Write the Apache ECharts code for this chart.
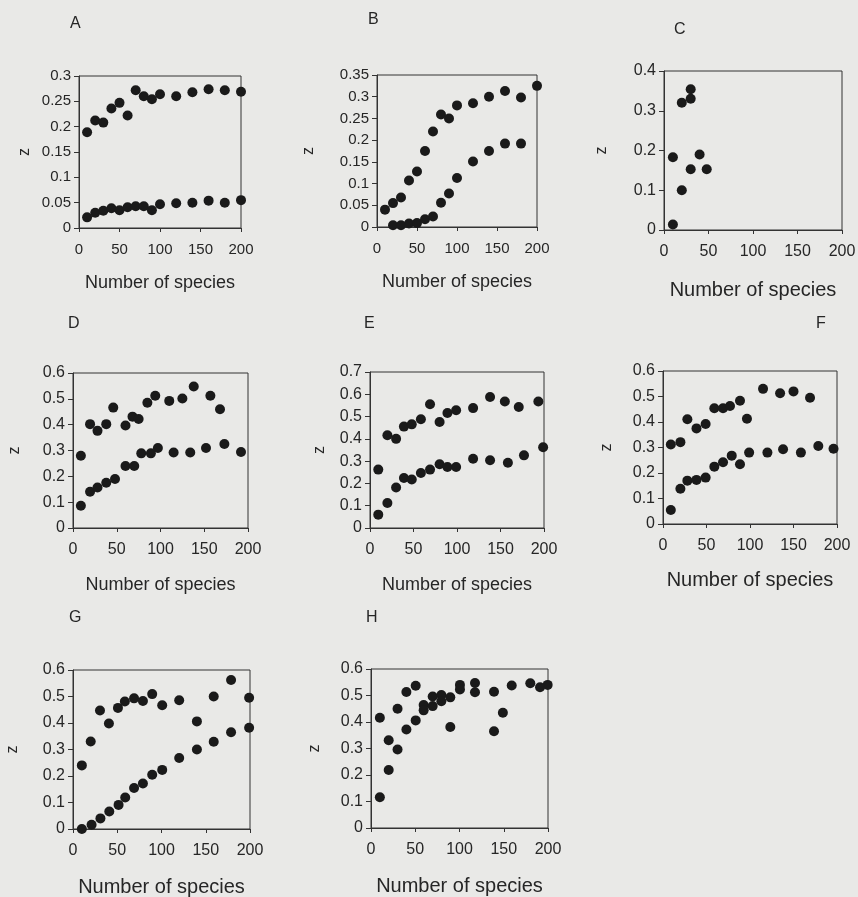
<!DOCTYPE html>
<html>
<head>
<meta charset="utf-8">
<script src="https://cdn.jsdelivr.net/npm/echarts@6/dist/echarts.min.js"></script>
<style>
html,body{margin:0;padding:0;background:#e9e9e7;}
#c{width:858px;height:897px;}
</style>
</head>
<body>
<div id="c"></div>
<script>
// ---------- data ----------
const panelLetters = ['A','B','C','D','E','F','G','H'];
const xTicks = [0, 50, 100, 150, 200];
const yMax = [0.3, 0.35, 0.4, 0.6, 0.7, 0.6, 0.6, 0.6];
const yStep = [0.05, 0.05, 0.1, 0.1, 0.1, 0.1, 0.1, 0.1];

const aX = [10,20,30,40,50,60,70,80,90,100,120,140,160,180,200];
const aUpper = [0.189,0.212,0.208,0.236,0.247,0.222,0.272,0.26,0.254,0.264,0.26,0.268,0.274,0.272,0.269];
const aLower = [0.021,0.030,0.034,0.039,0.035,0.041,0.043,0.043,0.035,0.047,0.049,0.050,0.054,0.050,0.055];

const bXUpper = [10,20,30,40,50,60,70,80,90,100,120,140,160,180,200];
const bUpper = [0.040,0.055,0.068,0.107,0.128,0.175,0.22,0.259,0.25,0.28,0.285,0.30,0.313,0.298,0.325];
const bXLower = [20,30,40,50,60,70,80,90,100,120,140,160,180];
const bLower = [0.004,0.004,0.008,0.009,0.018,0.024,0.056,0.077,0.113,0.151,0.175,0.192,0.192];

const cX = [10,10,20,20,30,30,30,40,48];
const cZ = [0.183,0.014,0.32,0.10,0.354,0.33,0.153,0.19,0.153];

const dXUpper = [9,19.5,28,38,46,60,68,75,85,94,110,125,138,157,168];
const dUpper = [0.28,0.402,0.376,0.402,0.466,0.397,0.431,0.422,0.485,0.512,0.492,0.501,0.548,0.512,0.46];
const dXLower = [9,19.5,28,38,48,60,70,78,89,97,115,134,152,173,192];
const dLower = [0.086,0.14,0.157,0.175,0.19,0.24,0.24,0.289,0.289,0.31,0.292,0.292,0.31,0.325,0.294];

const eXUpper = [9.5,20,30,39,48,58.5,69,80,89,99,118.5,138,155,171,193.5];
const eUpper = [0.262,0.416,0.40,0.455,0.465,0.488,0.555,0.476,0.516,0.528,0.538,0.588,0.568,0.543,0.568];
const eXLower = [9.5,20,30,39,48,58.5,69,80,89,99,118.5,138,158.5,177,199];
const eLower = [0.06,0.112,0.182,0.224,0.218,0.247,0.262,0.286,0.274,0.274,0.311,0.304,0.293,0.326,0.362];

const fXUpper = [9,20,28,38.5,49,59,69,77,88.5,96.5,115,134.6,150,169];
const fUpper = [0.312,0.321,0.411,0.375,0.392,0.454,0.454,0.463,0.483,0.413,0.53,0.513,0.52,0.495];
const fXLower = [9,20,28,38.5,49,59,69,79,88.5,99,120,138,158.5,178.5,196];
const fLower = [0.055,0.138,0.17,0.173,0.182,0.225,0.242,0.268,0.234,0.28,0.28,0.293,0.28,0.306,0.295];

const gXUpper = [10,20,30.5,40.6,50.8,58.6,69,79,89.5,100.8,120,140,159,178.6,199];
const gUpper = [0.24,0.33,0.447,0.398,0.457,0.481,0.493,0.483,0.509,0.467,0.486,0.406,0.5,0.562,0.495];
const gXLower = [10,21,31,41,51.5,59,69,79,89.5,100.8,120,140,159,178.6,199];
const gLower = [0.0,0.016,0.04,0.066,0.091,0.119,0.155,0.172,0.205,0.223,0.268,0.30,0.329,0.365,0.382];

const hXUpper = [10,20,30,40,50.5,59.5,69.7,79.5,89.6,100.5,117.5,139,159,180,199.6];
const hUpper = [0.416,0.331,0.45,0.513,0.537,0.464,0.496,0.502,0.493,0.54,0.547,0.514,0.538,0.546,0.54];
const hXLower = [10,20,30,40,50.5,59.5,69.7,79.5,89.6,100.5,117.5,139,149,191];
const hLower = [0.116,0.219,0.296,0.372,0.406,0.444,0.46,0.478,0.381,0.523,0.512,0.365,0.435,0.531];

const xName = 'Number of species';
const yName = 'z';

// ---------- layout ----------
const grids = [
  {left:79, top:76, width:162, height:152},
  {left:377, top:75, width:160, height:152},
  {left:664, top:71, width:178, height:159},
  {left:73, top:373, width:175, height:155},
  {left:370, top:372, width:174, height:156},
  {left:663, top:371, width:174, height:153},
  {left:73, top:670, width:177, height:159},
  {left:371, top:669, width:177, height:159}
];
const letterPos = [[70,16],[368,12],[674,22],[68,316],[364,316],[816,316],[69,610],[366,610]];
const xNameGap = [46,46,50,48,48,46,48,48];
const xNameSize = [18,18,20,18,18,20,20,20];
const yNameGap = [46,60,54,50,42,48,52,48];
const tickSize = [15,15,16,16,16,16,16,16];

const pairs = (xs, ys) => xs.map((x, i) => [x, ys[i]]);
const panelSets = [
  [pairs(aX, aUpper), pairs(aX, aLower)],
  [pairs(bXUpper, bUpper), pairs(bXLower, bLower)],
  [pairs(cX, cZ)],
  [pairs(dXUpper, dUpper), pairs(dXLower, dLower)],
  [pairs(eXUpper, eUpper), pairs(eXLower, eLower)],
  [pairs(fXUpper, fUpper), pairs(fXLower, fLower)],
  [pairs(gXUpper, gUpper), pairs(gXLower, gLower)],
  [pairs(hXUpper, hUpper), pairs(hXLower, hLower)]
];

const txt = '#262626';
const line = '#333';
const font = "'Liberation Sans', Arial, sans-serif";

const option = {
  animation: false,
  backgroundColor: '#e9e9e7',
  textStyle: {fontFamily: font, color: txt},
  title: panelLetters.map((t, i) => ({
    text: t, left: letterPos[i][0], top: letterPos[i][1], padding: 0,
    textStyle: {fontFamily: font, fontSize: 16, fontWeight: 'normal', color: txt}
  })),
  grid: grids.map(g => Object.assign({
    show: true, borderColor: line, borderWidth: 1, backgroundColor: 'transparent',
    containLabel: false, outerBoundsMode: 'none'
  }, g)),
  xAxis: grids.map((g, i) => ({
    type: 'value', gridIndex: i, min: xTicks[0], max: xTicks[xTicks.length - 1],
    interval: xTicks[1] - xTicks[0],
    name: xName, nameLocation: 'middle', nameGap: xNameGap[i],
    nameTextStyle: {fontFamily: font, fontSize: xNameSize[i], color: txt},
    axisLine: {show: true, onZero: false, lineStyle: {color: line, width: 1}},
    axisTick: {show: true, length: 4, lineStyle: {color: line}},
    axisLabel: {fontFamily: font, fontSize: tickSize[i], color: txt, margin: 14, showMinLabel: true, showMaxLabel: true},
    splitLine: {show: false}
  })),
  yAxis: grids.map((g, i) => ({
    type: 'value', gridIndex: i, min: 0, max: yMax[i], interval: yStep[i],
    name: yName, nameLocation: 'middle', nameGap: yNameGap[i], nameRotate: 90,
    nameTextStyle: {fontFamily: font, fontSize: 16, color: txt},
    axisLine: {show: true, onZero: false, lineStyle: {color: line, width: 1}},
    axisTick: {show: true, length: 5, lineStyle: {color: line}},
    axisLabel: {fontFamily: font, fontSize: tickSize[i], color: txt, margin: 8, showMinLabel: true, showMaxLabel: true},
    splitLine: {show: false}
  })),
  series: []
};

panelSets.forEach((sets, i) => {
  sets.forEach(d => {
    option.series.push({
      type: 'scatter', xAxisIndex: i, yAxisIndex: i, data: d,
      symbol: 'circle', symbolSize: 10,
      itemStyle: {color: '#1a1a1a', opacity: 1}
    });
  });
});

const chart = echarts.init(document.getElementById('c'), null, {renderer: 'canvas'});
chart.setOption(option);
</script>
</body>
</html>
